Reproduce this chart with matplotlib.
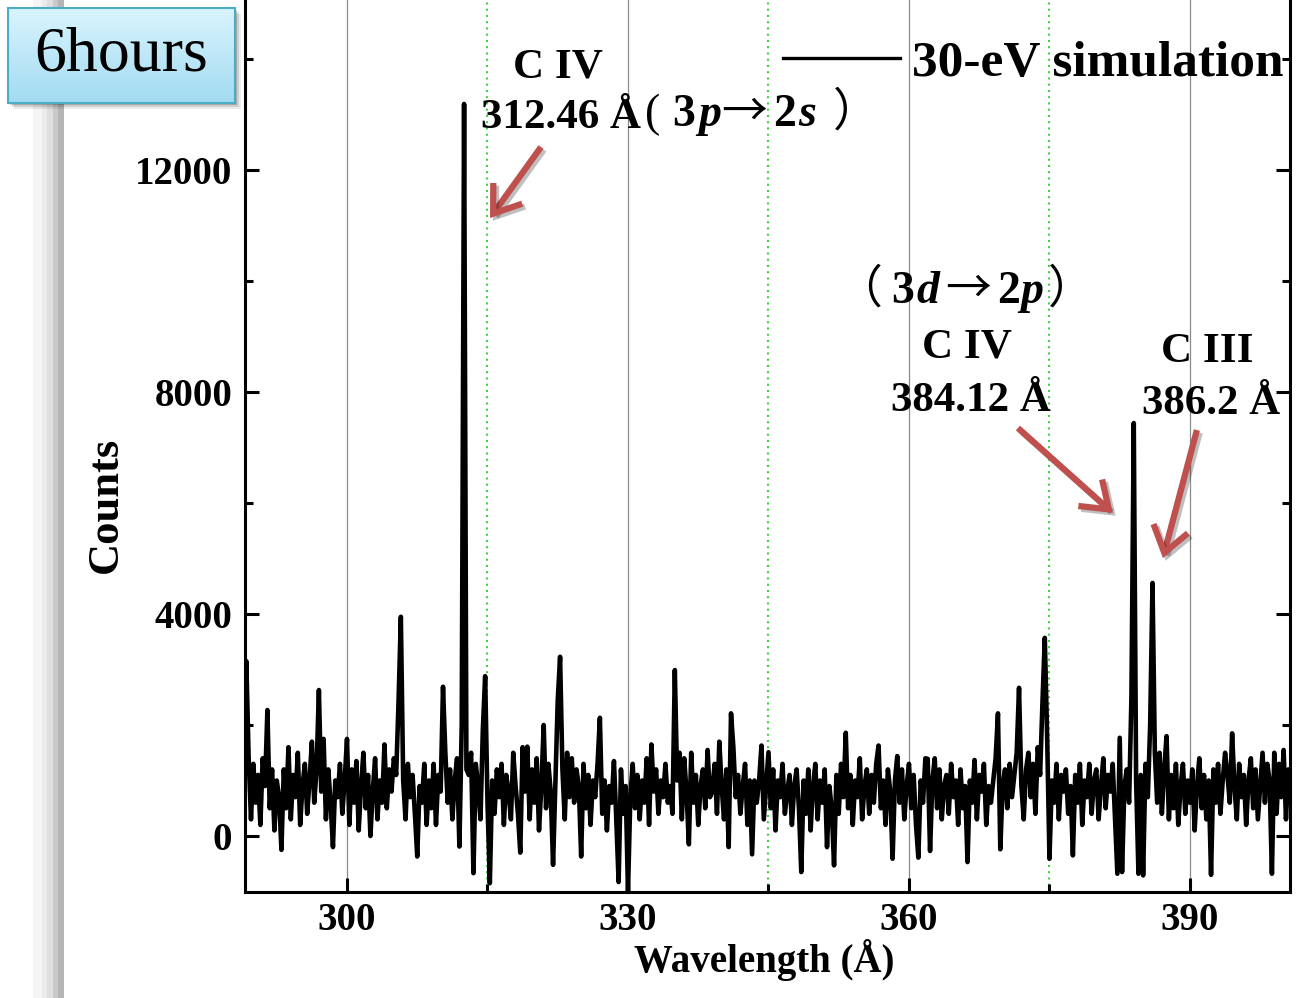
import numpy as np
import matplotlib
matplotlib.use("Agg")
import matplotlib.pyplot as plt
from matplotlib import patches
from matplotlib import transforms as mtransforms
from matplotlib import patheffects as pe
from matplotlib.ticker import FixedLocator
from matplotlib.colors import LinearSegmentedColormap

plt.rcParams['font.family'] = ['Liberation Serif', 'Noto Sans CJK SC', 'DejaVu Sans']
plt.rcParams['font.weight'] = 'bold'

# ---------------- data ----------------
wavelength_start = 289.0   # Å
wavelength_step = 0.25     # Å
counts = [
    1200, 3150, 1400, 300, 1300, 600, 1100, 200, 1400, 900, 2270, 500, 1200, 100, 1000, 700, -250, 1200, 500, 1600,
    300, 1100, 700, 1500, 200, 900, 1300, 400, 1000, 1700, 600, 1200, 2630, 800, 1750, 300, 1200, 600, -200, 1000,
    700, 1300, 400, 1000, 1750, 200, 1200, 600, 1350, 100, 900, 1500, 500, 1100, 0, 800, 1400, 300, 1000, 600,
    1650, 500, 1200, 800, 1400, 1100, 2400, 3950, 1000, 300, 1300, 700, 1100, 400, -370, 900, 600, 1300, 200, 1000,
    500, 1300, 200, 1100, 800, 2690, 1500, 600, 1200, 300, 1000, 1400, -190, 2000, 13190, 1200, 1100, 1500, -670, 1300,
    900, 300, 1900, 2880, 600, -850, 1000, 400, 1200, 700, 1300, 200, 1100, 800, 300, 1500, 900, 400, -300, 1600,
    800, 1610, 300, 1200, 600, 1400, 100, 900, 2000, 500, 1300, 800, -520, 1000, 2450, 3230, 1200, 300, 1500, 700,
    1400, 600, 1200, 900, -370, 1300, 500, 1100, 200, 1000, 700, 1300, 2130, 400, 1000, 100, 900, 600, 1350, 300,
    -830, 1200, 400, 900, -1000, 700, 1300, 500, 1100, 300, 1000, 600, 1400, 200, 1650, 800, 1200, 400, 1000, 700,
    1300, 600, 900, 400, 2990, 1000, 1500, 300, 1400, 800, -150, 1500, 600, 1100, 200, 900, 1200, 500, 1550, 700,
    800, 1300, 400, 1700, 900, 300, 1200, -200, 2210, 1600, 700, 1100, 400, 900, 1300, 200, 1000, -330, 1000, 600,
    1000, 1630, 300, 900, 1510, 500, 1200, 100, 1000, 700, 1300, 400, 800, 1100, 200, 900, 1200, 500, -650, 1000,
    400, 1200, 100, 900, 1300, 300, 1000, 600, 1200, -200, 900, 500, -530, 1100, 400, 1300, 700, 1860, 500, 1100,
    200, 1000, 700, 1400, 300, 900, 1200, 400, 1100, 600, 1300, 1630, 500, 1000, 200, 1200, 800, -410, 1000, 1440,
    600, 1200, 300, 900, 1300, 500, 1100, 200, -390, 1000, 600, 1400, 1390, -270, 1000, 1400, 500, 1200, 300, 900,
    1100, 400, 1300, 700, 1000, 200, 1200, 500, 900, -470, 1000, 600, 1370, 300, 1100, 800, 1300, 200, 900, 600,
    1000, 1400, 2210, -240, 900, 1200, 500, 1300, 700, 1100, 1500, 2670, 900, 300, 1200, 1500, 700, 1300, 400, 1600,
    1100, 2400, 3570, 1800, -410, 1000, 600, 1300, 300, 1100, 800, 1200, 400, 900, -350, 1100, 600, 1300, 200, 1000,
    700, 1300, 400, 1000, 1200, 300, 900, 1400, 500, 1100, 800, 1300, 300, -680, 1770, -650, 900, 1200, 600, 2500,
    7440, 1000, -680, 1100, -710, 1300, 700, 2000, 4560, 1500, 600, 1500, 400, 1200, 1800, 300, 1100, 500, 1300, 200,
    900, 1300, 400, 1000, 600, 1200, 100, 900, 1400, 500, 1100, 300, 1000, -700, 1200, 600, 1300, 400, 1000, 1500,
    1100, 600, 1850, 900, 300, 1300, 700, 1100, 200, 1000, 1400, 500, 1200, 300, 900, 1500, 600, 1300, 1000, -680,
    1500, 400, 1300, 700, 1550, 300, 1200, 800, 1000,
]
wavelength = wavelength_start + wavelength_step * np.arange(len(counts))

x_major_ticks = [300, 330, 360, 390]
x_minor_ticks = [315, 345, 375]
y_major_ticks = [0, 4000, 8000, 12000]
y_minor_ticks = [2000, 6000, 10000, 14000]
x_limits = (289.11, 400.68)
y_limits = (-1009, 15063)

series_label = '30-eV simulation'
panel_label = '6hours'
x_label = 'Wavelength (Å)'
y_label = 'Counts'

ion_labels = ['C IV', 'C IV', 'C III']
line_wavelength_labels = ['312.46 Å', '384.12 Å', '386.2 Å']

# ---------------- figure ----------------
W, H = 1312, 998
fig = plt.figure(figsize=(W / 100, H / 100), dpi=100)
fig.patch.set_facecolor('white')

# decorative stripe at left
stripe = [(33, 42, '#f5f5f5'), (42, 47, '#ebebeb'), (47, 53, '#dedede'),
          (53, 58, '#c9c9c9'), (58, 64, '#b5b5b5')]
for x0, x1, c in stripe:
    fig.add_artist(patches.Rectangle((x0 / W, 0), (x1 - x0) / W, 1.0,
                                     transform=fig.transFigure, color=c,
                                     lw=0, zorder=-1))

ax = fig.add_axes([245 / W, (H - 892) / H, 1045 / W, 892 / H])
ax.plot(wavelength, counts, color='black', lw=3.3, label=series_label, zorder=3)
ax.set_xlim(*x_limits)
ax.set_ylim(*y_limits)

ax.xaxis.set_major_locator(FixedLocator(x_major_ticks))
ax.xaxis.set_minor_locator(FixedLocator(x_minor_ticks))
ax.yaxis.set_major_locator(FixedLocator(y_major_ticks))
ax.yaxis.set_minor_locator(FixedLocator(y_minor_ticks))
ax.set_axisbelow(True)
ax.grid(which='major', axis='x', color='#8a8a8a', lw=0.9)
ax.grid(which='minor', axis='x', color='#44d044', lw=1.5, ls=(0, (1, 2)))

ax.tick_params(which='both', direction='in', left=True, right=True,
               bottom=True, top=False, width=2.2, labelsize=28)
ax.tick_params(which='major', length=10)
ax.tick_params(which='minor', length=5.5)
ax.tick_params(axis='y', pad=9)
ax.tick_params(axis='x', pad=7)
for s in ['left', 'right', 'bottom']:
    ax.spines[s].set_linewidth(2.2)
ax.spines['top'].set_visible(False)

ax.set_xlabel(x_label, fontsize=28, fontweight='bold')
ax.xaxis.set_label_coords(0.4967, -0.0762)
ax.xaxis.label.set_verticalalignment('center')
ax.set_ylabel(y_label, fontsize=32, fontweight='bold')
ax.yaxis.set_label_coords(-0.133, 0.434)
ax.yaxis.label.set_verticalalignment('center')

leg = ax.legend(loc='center right', bbox_to_anchor=(0.9935, 0.929), frameon=False,
                prop={'size': 37, 'weight': 'bold', 'family': 'Liberation Serif'},
                handlelength=2.28, handletextpad=0.23, borderpad=0, borderaxespad=0)
for h in leg.get_lines():
    h.set_linewidth(2.4)

# ---------------- annotations ----------------
lbl_kw = dict(ha='center', va='baseline', fontsize=31, fontweight='bold',
              family='Liberation Serif', zorder=6)
ax.text(322.5, 13658, ion_labels[0], **lbl_kw)
ax.text(322.9, 12757, line_wavelength_labels[0], **lbl_kw)
ax.text(366.2, 8613, ion_labels[1], **lbl_kw)
ax.text(366.6, 7658, line_wavelength_labels[1], **lbl_kw)
ax.text(391.8, 8541, ion_labels[2], **lbl_kw)
ax.text(392.3, 7604, line_wavelength_labels[2], **lbl_kw)

renderer = fig.canvas.get_renderer()
cjk = dict(fontweight='normal', family=['Noto Sans CJK SC'])
latin = dict(fontweight='normal', family=['Liberation Serif'])
bold = dict(fontweight='bold', family=['Liberation Serif'])
boldit = dict(fontweight='bold', style='italic', family=['Liberation Serif'])


def draw_runs(x, y, runs, size=33):
    """Write text pieces one after the other; gap is extra spacing in pixels."""
    cx, cy = ax.transData.transform((x, y))
    for s, style, gap in runs:
        cx += gap
        t = ax.text(cx, cy, s, transform=mtransforms.IdentityTransform(),
                    ha='left', va='baseline', fontsize=size, zorder=6, **style)
        bb = t.get_window_extent(renderer=renderer)
        cx = bb.x1


# (3p -> 2s) transition of the 312.46 Å line
draw_runs(331.85, 12793, [('(', latin, 0), ('3', bold, 12), ('p', boldit, 3),
                          ('→', cjk, 0), ('2', bold, 6), ('s', boldit, 2),
                          ('）', cjk, 17)])
# (3d -> 2p) transition of the 384.12 Å line
draw_runs(352.17, 9604, [('（', cjk, 0), ('3', bold, 10), ('d', boldit, 2),
                         ('→', cjk, 6), ('2', bold, 6), ('p', boldit, 0),
                         ('）', cjk, 5)])

arrow_style = matplotlib.patches.ArrowStyle('->', head_length=0.45, head_width=0.32)
arrows = [((320.71, 12414), (315.27, 11135)),
          ((371.63, 7351), (381.77, 5820)),
          ((390.74, 7315), (387.11, 5009))]
for tail, head in arrows:
    a = patches.FancyArrowPatch(tail, head, arrowstyle=arrow_style,
                                mutation_scale=40, lw=4.5, color='#c0504d',
                                capstyle='butt', joinstyle='miter', zorder=7,
                                shrinkA=0, shrinkB=0)
    a.set_path_effects([pe.SimpleLineShadow(offset=(2, -2), alpha=0.25),
                        pe.Normal()])
    ax.add_patch(a)

# ---------------- "6hours" label box ----------------
bx0, by0, bx1, by1 = 8, 8, 235, 103
for k, alpha in [(6, 0.08), (4, 0.12), (2, 0.18)]:
    fig.add_artist(patches.Rectangle(((bx0 + k) / W, (H - by1 - k) / H),
                                     (bx1 - bx0) / W, (by1 - by0) / H,
                                     transform=fig.transFigure, color='black',
                                     alpha=alpha, lw=0, zorder=4))
box_ax = fig.add_axes([bx0 / W, (H - by1) / H, (bx1 - bx0) / W, (by1 - by0) / H],
                      zorder=5)
grad = np.linspace(0, 1, 64).reshape(-1, 1)
cmap = LinearSegmentedColormap.from_list('box', ['#d9f4fe', '#a3dbf1'])
box_ax.imshow(grad, aspect='auto', cmap=cmap, extent=[0, 1, 0, 1], origin='upper')
box_ax.set_xticks([])
box_ax.set_yticks([])
for s in box_ax.spines.values():
    s.set_color('#4bacc6')
    s.set_linewidth(1.5)
box_ax.text(0.5, 0.5, panel_label, ha='center', va='center', fontsize=46,
            fontweight='normal', family='Liberation Serif',
            transform=box_ax.transAxes)

fig.savefig('out.png', dpi=100)
